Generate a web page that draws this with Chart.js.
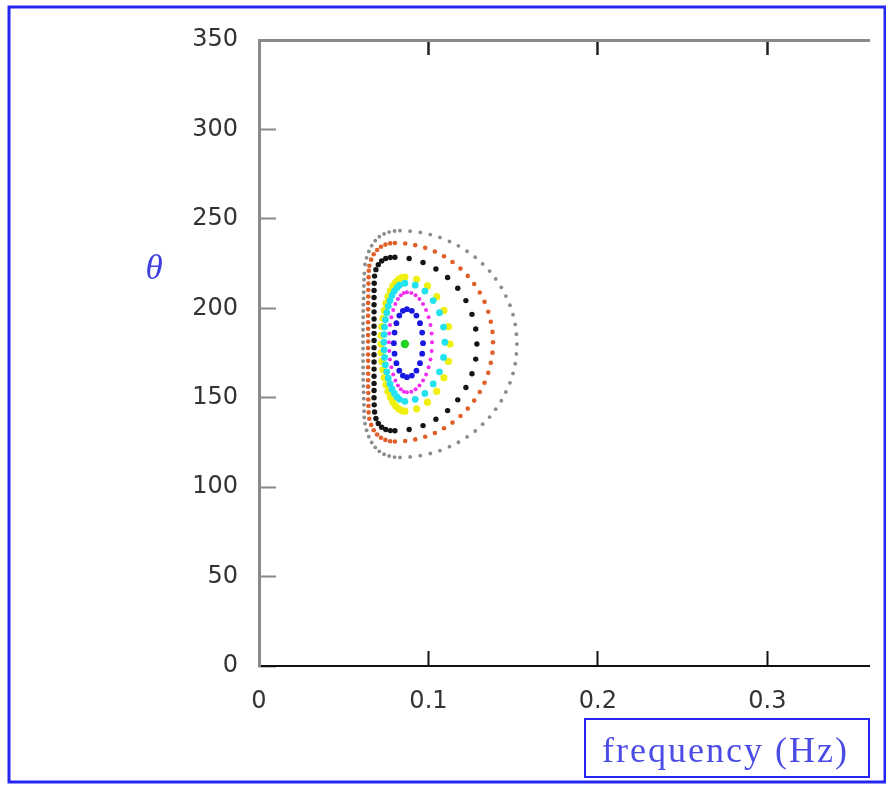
<!DOCTYPE html>
<html>
<head>
<meta charset="utf-8">
<title>theta vs frequency</title>
<script src="https://cdn.jsdelivr.net/npm/chart.js@4.4.0/dist/chart.umd.min.js"></script>
<style>
  body { margin: 0; background: #fff; }
  canvas { display: block; }
</style>
</head>
<body>
<canvas id="myChart" width="886" height="797"></canvas>
<script>
// orbitas [frecuencia (Hz), theta], de fuera hacia dentro
const orbitaGris = [
  [0.0832,243.4],[0.0892,243.1],[0.0952,242.4],[0.1011,241.2],[0.1068,239.6],[0.1124,237.4],[0.1177,234.9],[0.1228,231.9],
  [0.1276,228.6],[0.1320,224.8],[0.1361,220.8],[0.1397,216.4],[0.1430,211.7],[0.1457,206.8],[0.1481,201.7],[0.1499,196.4],
  [0.1512,191.0],[0.1519,185.5],[0.1522,180.0],[0.1519,174.5],[0.1512,169.0],[0.1499,163.6],[0.1481,158.3],[0.1457,153.2],
  [0.1430,148.3],[0.1397,143.6],[0.1361,139.2],[0.1320,135.2],[0.1276,131.4],[0.1228,128.1],[0.1177,125.1],[0.1124,122.6],
  [0.1068,120.4],[0.1011,118.8],[0.0952,117.6],[0.0892,116.9],[0.0832,116.6],
  [0.0800,116.8],[0.0768,117.4],[0.0738,118.4],[0.0710,120.0],[0.0686,122.2],[0.0665,125.0],[0.0648,128.2],[0.0635,131.8],[0.0626,135.5],
  [0.0621,139.0],[0.0620,142.5],[0.0619,146.0],[0.0618,149.5],[0.0617,153.0],[0.0616,156.5],[0.0615,160.0],[0.0615,163.5],
  [0.0614,167.0],[0.0614,170.5],[0.0614,174.0],[0.0614,177.5],[0.0614,181.0],[0.0614,184.5],[0.0614,188.0],[0.0614,191.5],
  [0.0615,195.0],[0.0615,198.5],[0.0616,202.0],[0.0617,205.5],[0.0618,209.0],[0.0619,212.5],[0.0620,216.0],[0.0622,219.5],
  [0.0626,224.5],[0.0635,228.2],[0.0648,231.8],[0.0665,235.0],[0.0686,237.8],[0.0710,240.0],[0.0738,241.6],[0.0768,242.6],[0.0800,243.2]
];

const orbitaNaranja = [
  [0.0802,236.5],[0.0863,236.2],[0.0922,235.3],[0.0981,233.8],[0.1038,231.7],[0.1092,229.1],[0.1142,225.9],[0.1189,222.2],
  [0.1232,218.1],[0.1270,213.6],[0.1303,208.8],[0.1331,203.6],[0.1353,198.1],[0.1368,192.5],[0.1378,186.8],[0.1381,181.0],
  [0.1378,175.2],[0.1368,169.5],[0.1353,163.9],[0.1331,158.4],[0.1303,153.2],[0.1270,148.4],[0.1232,143.9],[0.1189,139.8],
  [0.1142,136.1],[0.1092,132.9],[0.1038,130.3],[0.0981,128.2],[0.0922,126.7],[0.0863,125.8],[0.0802,125.5],
  [0.0774,125.7],[0.0746,126.4],[0.0720,127.6],[0.0697,129.4],[0.0677,131.8],[0.0662,134.8],[0.0651,138.2],
  [0.0647,141.8],[0.0646,145.4],[0.0645,149.0],[0.0645,152.6],[0.0644,156.2],[0.0644,159.8],[0.0644,163.4],[0.0644,167.0],
  [0.0644,170.6],[0.0644,174.2],[0.0644,177.8],[0.0644,181.4],[0.0644,185.0],[0.0644,188.6],[0.0644,192.2],[0.0644,195.8],
  [0.0644,199.4],[0.0644,203.0],[0.0645,206.6],[0.0645,210.2],[0.0646,213.8],[0.0647,217.4],[0.0648,221.0],
  [0.0651,223.8],[0.0662,227.2],[0.0677,230.2],[0.0697,232.6],[0.0720,234.4],[0.0746,235.6],[0.0774,236.3]
];

const orbitaNegra = [
  [0.0802,228.5],[0.0886,227.8],[0.0968,225.6],[0.1044,222.0],[0.1113,217.2],[0.1173,211.2],[0.1221,204.3],[0.1257,196.6],
  [0.1279,188.4],[0.1286,180.0],[0.1279,171.6],[0.1257,163.4],[0.1221,155.7],[0.1173,148.8],[0.1113,142.8],[0.1044,138.0],
  [0.0968,134.4],[0.0886,132.2],[0.0802,131.5],
  [0.0775,131.6],[0.0748,132.2],[0.0724,133.5],[0.0704,135.6],[0.0690,138.4],[0.0682,142.0],
  [0.0680,146.0],[0.0679,150.0],[0.0679,154.0],[0.0679,158.0],[0.0679,162.0],[0.0679,166.0],[0.0679,170.0],[0.0679,174.0],
  [0.0679,178.0],[0.0679,182.0],[0.0679,186.0],[0.0679,190.0],[0.0679,194.0],[0.0679,198.0],[0.0679,202.0],[0.0679,206.0],
  [0.0679,210.0],[0.0680,214.0],
  [0.0682,218.0],[0.0690,221.6],[0.0704,224.4],[0.0724,226.5],[0.0748,227.8],[0.0775,228.4]
];

const orbitaAmarilla = [
  [0.0861,217.5],[0.0930,216.2],[0.0994,212.5],[0.1049,206.5],[0.1091,198.8],[0.1118,189.7],[0.1127,180.0],
  [0.1118,170.3],[0.1091,161.2],[0.1049,153.5],[0.0994,147.5],[0.0930,143.8],[0.0861,142.5],
  [0.0843,142.8],[0.0824,143.8],[0.0807,145.3],[0.0790,147.5],[0.0775,150.3],[0.0761,153.5],[0.0749,157.2],[0.0739,161.2],
  [0.0731,165.6],[0.0725,170.3],[0.0721,175.1],[0.0720,180.0],[0.0721,184.9],[0.0725,189.7],[0.0731,194.4],[0.0739,198.8],
  [0.0749,202.8],[0.0761,206.5],[0.0775,209.7],[0.0790,212.5],[0.0807,214.7],[0.0824,216.2],[0.0843,217.2]
];

const orbitaCian = [
  [0.0861,214.0],[0.0922,212.9],[0.0979,209.6],[0.1028,204.3],[0.1065,197.5],[0.1089,189.5],[0.1097,181.0],
  [0.1089,172.5],[0.1065,164.5],[0.1028,157.7],[0.0979,152.4],[0.0922,149.1],[0.0861,148.0],
  [0.0829,149.1],[0.0814,150.5],[0.0799,152.4],[0.0785,154.8],[0.0773,157.7],[0.0763,160.9],[0.0754,164.5],[0.0746,168.4],
  [0.0741,172.5],[0.0738,176.7],[0.0737,181.0],[0.0738,185.3],[0.0741,189.5],[0.0746,193.6],[0.0754,197.5],[0.0763,201.1],
  [0.0773,204.3],[0.0785,207.2],[0.0799,209.6],[0.0814,211.5],[0.0829,212.9]
];

const orbitaMagenta = [
  [0.0873,209.0],[0.0899,208.6],[0.0924,207.3],[0.0947,205.2],[0.0968,202.4],[0.0986,199.0],[0.1001,195.0],[0.1012,190.6],
  [0.1019,185.9],[0.1021,181.0],[0.1019,176.1],[0.1012,171.4],[0.1001,167.0],[0.0986,163.0],[0.0968,159.6],[0.0947,156.8],
  [0.0924,154.7],[0.0899,153.4],[0.0873,153.0],
  [0.0855,153.4],[0.0837,154.7],[0.0820,156.8],[0.0805,159.6],[0.0792,163.0],[0.0781,167.0],[0.0773,171.4],[0.0769,176.1],
  [0.0767,181.0],[0.0769,185.9],[0.0773,190.6],[0.0781,195.0],[0.0792,199.0],[0.0805,202.4],[0.0820,205.2],[0.0837,207.3],[0.0855,208.6]
];

const orbitaAzul = [
  [0.0873,199.5],[0.0902,198.6],[0.0929,195.9],[0.0950,191.7],[0.0963,186.4],[0.0968,180.5],
  [0.0963,174.6],[0.0950,169.3],[0.0929,165.1],[0.0902,162.4],[0.0873,161.5],
  [0.0849,162.4],[0.0828,165.1],[0.0811,169.3],[0.0800,174.6],[0.0796,180.5],[0.0800,186.4],[0.0811,191.7],[0.0828,195.9],[0.0849,198.6]
];

// punto fijo central
const puntoCentral = [[0.0861,180.0]];

const limitesX = [0, 0.36];
const limitesY = [0, 350];

const fuenteTicks = { family: 'DejaVu Sans', size: 24 };

function serie(puntos, color, radio) {
  return {
    data: puntos.map(p => ({ x: p[0], y: p[1] })),
    showLine: false,
    pointRadius: radio,
    pointHoverRadius: radio,
    pointBackgroundColor: color,
    pointBorderWidth: 0
  };
}

const etiquetasPlugin = {
  id: 'etiquetas',
  afterDraw(chart) {
    const ctx = chart.ctx;
    ctx.save();
    // marco azul exterior
    ctx.strokeStyle = '#2626f2';
    ctx.lineWidth = 3;
    ctx.strokeRect(9, 7, 876, 775);

    ctx.fillStyle = '#3f3fe0';
    ctx.font = 'italic 35px "Liberation Serif"';
    ctx.textAlign = 'center';
    ctx.textBaseline = 'middle';
    ctx.fillText('θ', 154, 270);

    // titulo del eje x dentro de su caja
    ctx.lineWidth = 2;
    ctx.strokeRect(585, 719, 284, 58);
    ctx.fillStyle = '#4b4be6';
    ctx.font = '36px "Liberation Serif"';
    ctx.letterSpacing = '2px';
    ctx.textAlign = 'left';
    ctx.textBaseline = 'alphabetic';
    ctx.fillText('frequency (Hz)', 602, 762);
    ctx.restore();
  }
};

function cargarGrafico() {
  const ctx = document.getElementById('myChart').getContext('2d');

  new Chart(ctx, {
    type: 'scatter',
    data: {
      datasets: [
        serie(puntoCentral, '#22d422', 4.2),
        serie(orbitaAzul, '#1818e0', 2.9),
        serie(orbitaMagenta, '#f22cf2', 2),
        serie(orbitaCian, '#22e2f0', 3.4),
        serie(orbitaAmarilla, '#f0f010', 3.6),
        serie(orbitaNegra, '#151515', 2.7),
        serie(orbitaNaranja, '#e0602c', 2.3),
        serie(orbitaGris, '#8c8c8c', 1.9)
      ]
    },
    options: {
      responsive: false,
      animation: false,
      layout: { padding: { left: 0, right: 17, top: 0, bottom: 0 } },
      plugins: { legend: { display: false }, tooltip: { enabled: false } },
      scales: {
        x: {
          type: 'linear',
          position: 'bottom',
          min: limitesX[0],
          max: limitesX[1],
          afterFit: s => { s.height = 131; },
          border: { color: '#111', width: 2 },
          grid: { drawOnChartArea: false, tickLength: -15, tickColor: '#111', tickWidth: 2 },
          ticks: { stepSize: 0.1, includeBounds: false, padding: 36, color: '#333', font: fuenteTicks }
        },
        x2: {
          type: 'linear',
          axis: 'x',
          position: 'top',
          min: limitesX[0],
          max: limitesX[1],
          afterFit: s => { s.height = 40; },
          border: { color: '#8a8a8a', width: 3 },
          grid: { drawOnChartArea: false, tickLength: -15, tickColor: '#222', tickWidth: 2.5 },
          ticks: { display: false, stepSize: 0.1, includeBounds: false }
        },
        y: {
          type: 'linear',
          min: limitesY[0],
          max: limitesY[1],
          // ancho fijo del eje; el relleno de las etiquetas no debe empujar el area
          afterFit: s => { s.width = 259; s.paddingTop = 0; s.paddingBottom = 0; },
          border: { color: '#8a8a8a', width: 3 },
          grid: { drawOnChartArea: false, tickLength: -17, tickColor: '#888', tickWidth: 2 },
          ticks: { stepSize: 50, padding: 38, color: '#333', font: fuenteTicks }
        }
      }
    },
    plugins: [etiquetasPlugin]
  });
}

document.addEventListener("DOMContentLoaded", () => {
  cargarGrafico();
});
</script>
</body>
</html>
